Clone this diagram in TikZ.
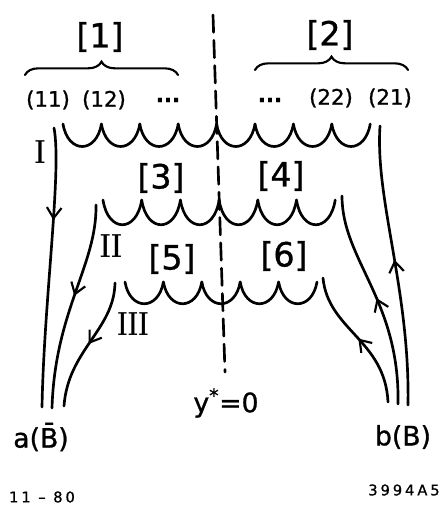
\documentclass[tikz,border=0pt]{standalone}
\usepackage{fontspec}
\setsansfont{DejaVu Sans}[FakeBold=1]
\usetikzlibrary{arrows.meta, decorations.markings, decorations.pathreplacing}

\begin{document}
\begin{tikzpicture}[x=0.75pt, y=-0.75pt, font=\sffamily,
  line width=2pt, line cap=round,
  grp/.style={font=\sffamily\fontsize{25}{28}\selectfont},
  lab/.style={font=\sffamily\fontsize{16}{18}\selectfont},
  roman/.style={font=\rmfamily\bfseries\fontsize{25}{28}\selectfont},
  endlab/.style={font=\sffamily\fontsize{20}{22}\selectfont},
  tag/.style={font=\sffamily\fontsize{11}{13}\selectfont\addfontfeature{LetterSpace=20}},
  flow/.style={postaction={decorate}, decoration={markings,
    mark=at position #1 with {\arrow{Straight Barb[length=8pt,width=11pt,line width=1.6pt]}}}},
  overbr/.style={decorate, line width=1.6pt, decoration={brace, amplitude=10pt}}]
  \useasboundingbox (0,0) rectangle (447,520);
  % groups and braces
  \node[grp] (g1) at (100,37) {[1]};
  \node[grp] (g2) at (330,35) {[2]};
  \draw[overbr] (25,75) -- (178,75);
  \draw[overbr] (255,70) -- (408,70);
  \node[lab] (p11) at (48,100) {(11)};
  \node[lab] (p12) at (104,100) {(12)};
  \node[lab] (dl) at (168,100) {\textbf{...}};
  \node[lab] (dr) at (270,100) {\textbf{...}};
  \node[lab] (p22) at (331,98) {(22)};
  \node[lab] (p21) at (390,98) {(21)};
  \node[grp] (g3) at (161,178) {[3]};
  \node[grp] (g4) at (281,176) {[4]};
  \node[grp] (g5) at (172,259) {[5]};
  \node[grp] (g6) at (284,256) {[6]};
  \node[roman] (rI) at (40,152) {\scalebox{0.75}[1]{I}};
  \node[roman] (rII) at (111,246) {\scalebox{0.75}[1]{II}};
  \node[roman] (rIII) at (133,324) {\scalebox{0.7}[1]{III}};
  % chains of bonds
  \foreach \i in {0,...,7}
    \draw ({63+38.4*\i},124) .. controls +(5,30) and +(-5,30) .. ++(38.4,0);
  \foreach \i in {0,...,5}
    \draw ({103+38.7*\i},200) .. controls +(5,33) and +(-5,33) .. ++(38.7,0);
  \foreach \i in {0,...,4}
    \draw ({125+38.4*\i},282) .. controls +(5,29) and +(-5,29) .. ++(38.4,0);
  % end labels
  \node[endlab] (a) at (41,437) {a(\=B)};
  \node[endlab] (b) at (403,437) {b(B)};
  \node[endlab] (ys) at (226,403) {y\textsuperscript{*}=0};
  \node[tag] (date) at (42,497) {11 – 80};
  \node[tag] (num) at (404,490) {3994A5};
  % lines to the ends
  \coordinate (sIl) at (54,128);
  \coordinate (sIIl) at (96,205);
  \coordinate (sIIIl) at (115,283);
  \coordinate (eIl) at (42,407);
  \coordinate (eIIl) at (52,408);
  \coordinate (eIIIl) at (64,406);
  \coordinate (sIr) at (380,126);
  \coordinate (sIIr) at (342,196);
  \coordinate (sIIIr) at (323,278);
  \coordinate (eIr) at (408,405);
  \coordinate (eIIr) at (398,404);
  \coordinate (eIIIr) at (388,402);
  \draw[flow=0.33] (sIl) .. controls (62,170) and (44,300) .. (eIl);
  \draw[flow=0.45] (sIIl) .. controls (97,265) and (55,310) .. (eIIl);
  \draw[flow=0.5] (sIIIl) .. controls (114,330) and (68,350) .. (eIIIl);
  \draw[flow=0.52] (eIr) .. controls (410,290) and (375,200) .. (sIr);
  \draw[flow=0.5] (eIIr) .. controls (400,300) and (342,260) .. (sIIr);
  \draw[flow=0.5] (eIIIr) .. controls (385,340) and (328,330) .. (sIIIr);
  % y* = 0 line
  \coordinate (ytop) at (213,15);
  \coordinate (ybot) at (225,372);
  \draw[dash pattern=on 13pt off 6pt] (ytop) -- (ybot);
\end{tikzpicture}
\end{document}
